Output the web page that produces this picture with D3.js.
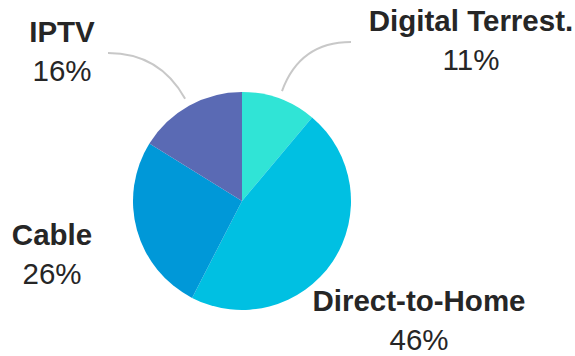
<!DOCTYPE html>
<html>
<head>
<meta charset="utf-8">
<script src="https://cdn.jsdelivr.net/npm/d3@7/dist/d3.min.js"></script>
<style>
  html, body { margin: 0; padding: 0; background: #ffffff; }
  svg { display: block; }
  text { font-family: "Liberation Sans", Arial, sans-serif; fill: #262626; }
</style>
</head>
<body>
<svg id="chart" width="575" height="356"></svg>
<script>
// Share of TV households by reception platform
const categories = ["Digital Terrest.", "Direct-to-Home", "Cable", "IPTV"];
const shares = [11, 46, 26, 16];
const colors = ["#30e4d6", "#00c0e2", "#0098d8", "#5a6ab4"];
// Label anchor (centre x, name baseline y) and whether a leader line is drawn
const labelX = [471, 419, 52, 62];
const labelY = [31, 311, 245, 42];
const leader = [true, false, false, true];

const width = 575, height = 356;
const cx = 242, cy = 201, radius = 109;
const fontSize = 29.5;

const svg = d3.select("#chart");
const g = svg.append("g").attr("transform", `translate(${cx},${cy})`);

const data = categories.map((c, i) => ({ name: c, value: shares[i], color: colors[i], lx: labelX[i], ly: labelY[i], leader: leader[i] }));

const pie = d3.pie().value(d => d.value).sort(null);
const arc = d3.arc().innerRadius(0).outerRadius(radius);
const arcs = pie(data);

g.selectAll("path.slice")
  .data(arcs)
  .join("path")
  .attr("class", "slice")
  .attr("d", arc)
  .attr("fill", d => d.data.color);

// Curved leader lines: leave the slice radially, end horizontally next to the label
arcs.filter(d => d.data.leader).forEach(d => {
  const mid = (d.startAngle + d.endAngle) / 2;
  const sx = Math.sin(mid), sy = -Math.cos(mid);
  const r0 = radius + 8;
  const p0 = [cx + sx * r0, cy + sy * r0];
  const endY = d.data.ly + 11;
  const r2 = (endY - cy) / sy;
  const c = [cx + sx * r2, endY];
  const endX = sx < 0 ? d.data.lx + 46 : d.data.lx - 120;
  const path = d3.path();
  path.moveTo(p0[0], p0[1]);
  path.quadraticCurveTo(c[0], c[1], endX, endY);
  svg.append("path")
    .attr("d", path.toString())
    .attr("fill", "none")
    .attr("stroke", "#c8c8c8")
    .attr("stroke-width", 2);
});

const labels = svg.selectAll("g.label")
  .data(arcs)
  .join("g")
  .attr("class", "label");

labels.append("text")
  .attr("x", d => d.data.lx)
  .attr("y", d => d.data.ly)
  .attr("text-anchor", "middle")
  .attr("font-size", fontSize)
  .attr("font-weight", "bold")
  .text(d => d.data.name);

labels.append("text")
  .attr("x", d => d.data.lx)
  .attr("y", d => d.data.ly + 39)
  .attr("text-anchor", "middle")
  .attr("font-size", fontSize)
  .text(d => d.data.value + "%");
</script>
</body>
</html>
